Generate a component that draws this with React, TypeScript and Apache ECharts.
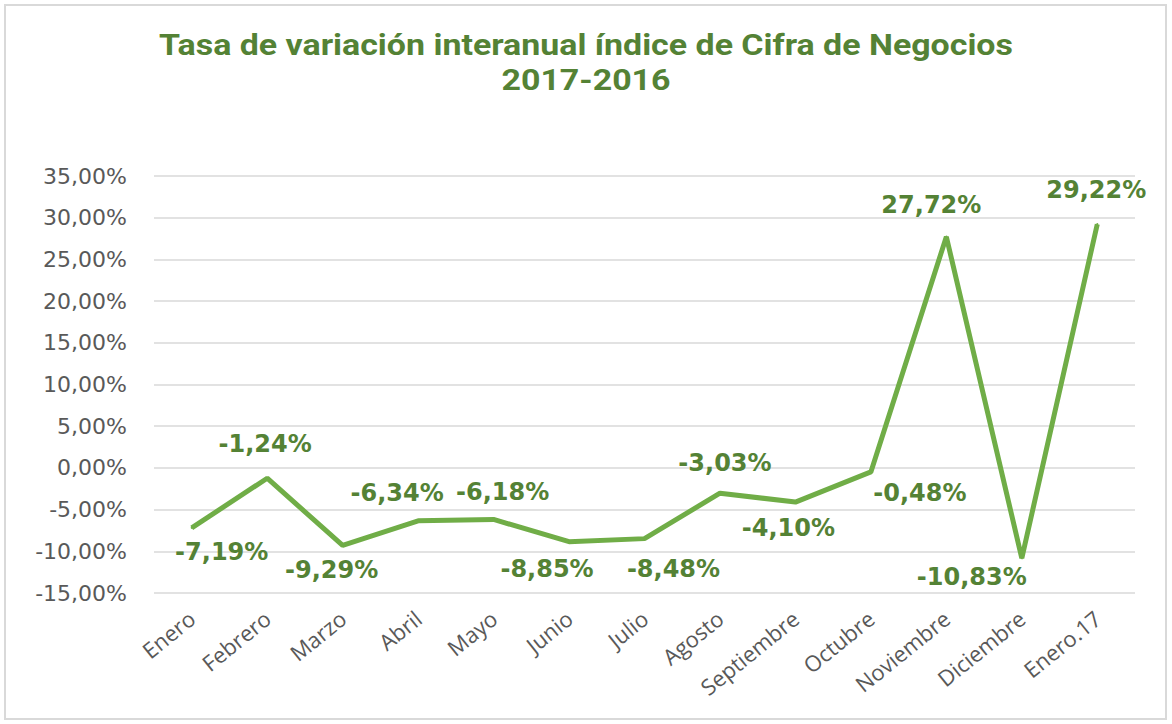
import React, { useEffect, useRef } from "react";
import * as echarts from "echarts";

const TITLE_LINE_1 = "Tasa de variación interanual índice de Cifra de Negocios";
const TITLE_LINE_2 = "2017-2016";
const CATEGORIES = [
  "Enero", "Febrero", "Marzo", "Abril", "Mayo", "Junio", "Julio",
  "Agosto", "Septiembre", "Octubre", "Noviembre", "Diciembre", "Enero.17",
];
const VALUES = [-7.19, -1.24, -9.29, -6.34, -6.18, -8.85, -8.48, -3.03, -4.10, -0.48, 27.72, -10.83, 29.22];
const Y_MIN = -15;
const Y_MAX = 35;
const Y_STEP = 5;
// label centre offsets relative to each point (presentation only)
const LABEL_OFFSETS: [number, number][] = [
  [30, 24], [-2, -34], [-11, 25], [-21, -28], [9, -27], [-22, 27], [29, 30],
  [5, -30], [-7, 26], [49, 21], [-15, -32], [-50, 19], [-1, -34],
];

const fmt = (v: number) => v.toFixed(2).replace(".", ",") + "%";

const titleText = (text: string, y: number) => ({
  type: "text",
  x: 586,
  y,
  scaleX: 1.17,
  silent: true,
  style: {
    text,
    fill: "#548235",
    font: "bold 29px Roboto",
    textAlign: "center",
    textVerticalAlign: "top",
  },
});

export default function App() {
  const ref = useRef<HTMLDivElement>(null);
  useEffect(() => {
    if (!ref.current) return;
    const chart = echarts.init(ref.current, null, { renderer: "svg" });
    chart.setOption({
      animation: false,
      backgroundColor: "#ffffff",
      graphic: [
        {
          type: "rect",
          shape: { x: 5, y: 5, width: 1161, height: 714 },
          style: { fill: "none", stroke: "#d9d9d9", lineWidth: 2 },
          silent: true,
        },
        titleText(TITLE_LINE_1, 31),
        titleText(TITLE_LINE_2, 66),
      ],
      grid: { left: 154, right: 37, top: 176, bottom: 131 },
      xAxis: {
        type: "category",
        data: CATEGORIES,
        boundaryGap: true,
        axisLine: { show: false },
        axisTick: { show: false },
        axisLabel: {
          rotate: 39,
          margin: 22,
          interval: 0,
          color: "#595959",
          fontFamily: "Open Sans",
          fontSize: 22,
        },
      },
      yAxis: {
        type: "value",
        min: Y_MIN,
        max: Y_MAX,
        interval: Y_STEP,
        axisLine: { show: false },
        axisTick: { show: false },
        splitLine: { lineStyle: { color: "#d9d9d9", width: 1.5 } },
        axisLabel: {
          formatter: (v: number) => fmt(v),
          color: "#595959",
          fontFamily: "DejaVu Sans",
          fontSize: 22,
          margin: 27,
        },
      },
      series: [
        {
          type: "line",
          data: VALUES.map((v, i) => ({
            value: v,
            label: {
              show: true,
              position: "inside",
              offset: LABEL_OFFSETS[i],
              formatter: () => fmt(v),
            },
          })),
          symbol: "circle",
          symbolSize: 2,
          itemStyle: { color: "#70AD47" },
          lineStyle: { color: "#70AD47", width: 5 },
          label: {
            show: true,
            position: "inside",
            color: "#548235",
            fontFamily: "DejaVu Sans",
            fontWeight: "bold",
            fontSize: 24,
            align: "center",
            verticalAlign: "middle",
          },
        },
      ],
    });
    return () => chart.dispose();
  }, []);
  return (
    <div
      ref={ref}
      style={{ position: "fixed", left: 0, top: 0, width: 1172, height: 724 }}
    />
  );
}
